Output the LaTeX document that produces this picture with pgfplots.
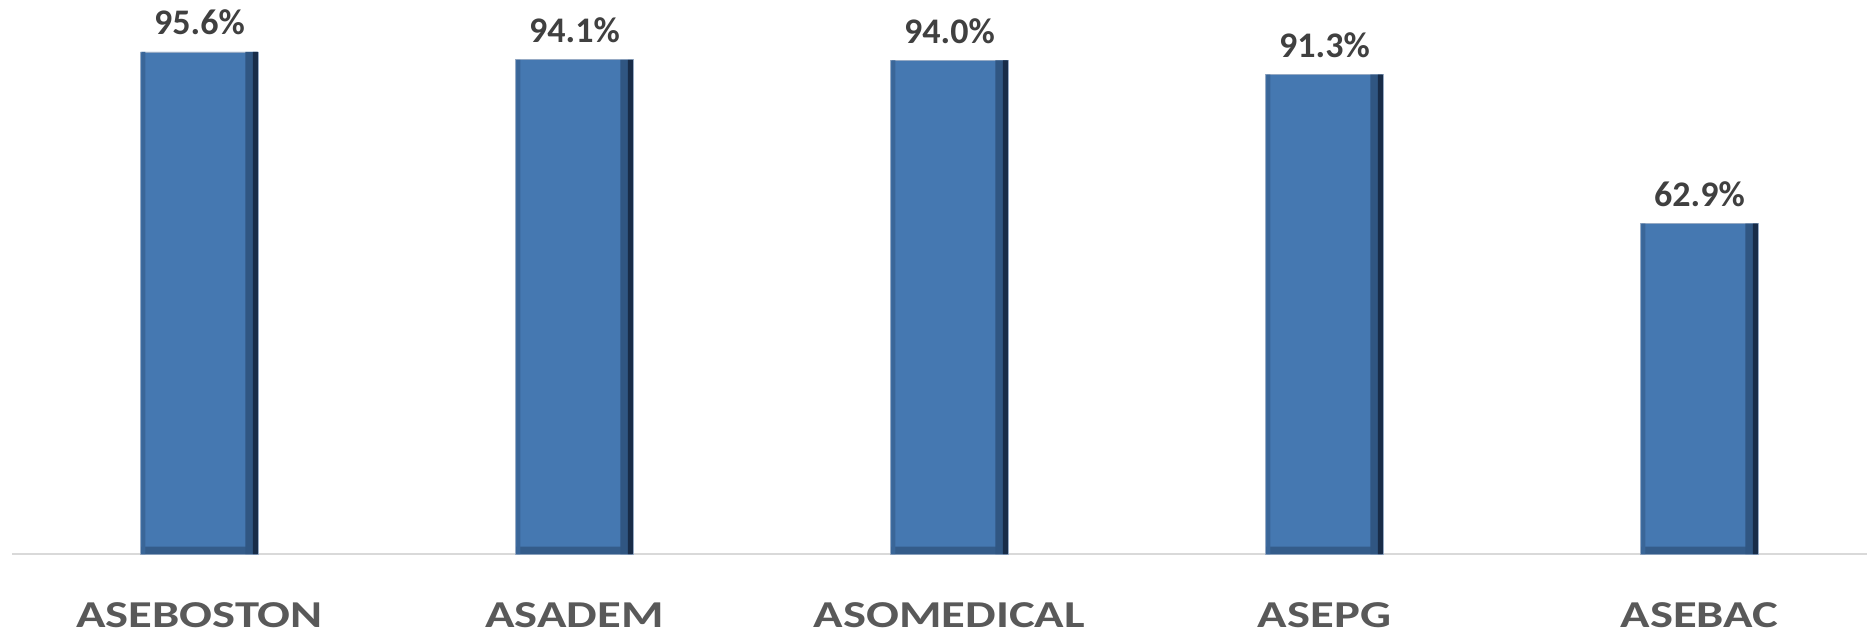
\documentclass[border=0pt]{standalone}
\usepackage{fontspec}
\setmainfont{Carlito}
\usepackage{graphicx}
\usepackage{pgfplots}
\pgfplotsset{compat=1.18}
\definecolor{bmain}{RGB}{69,120,177}
\definecolor{bleft}{RGB}{58,102,152}
\definecolor{bdarkA}{RGB}{48,86,130}
\definecolor{bdarkB}{RGB}{24,44,72}
\definecolor{bbottom}{RGB}{52,92,138}
\definecolor{valtext}{RGB}{64,64,64}
\definecolor{cattext}{RGB}{89,89,89}
\definecolor{axisgray}{RGB}{217,217,217}
\newcommand{\cat}[1]{\scalebox{1.28}[1]{#1}}
\begin{document}
\begin{tikzpicture}
\begin{axis}[
  at={(12bp,84bp)}, anchor=south west,
  scale only axis,
  width=1855bp, height=554bp,
  xmin=-0.5, xmax=4.447,
  ymin=0, ymax=105.5,
  axis x line=bottom,
  axis y line=none,
  x axis line style={-, draw=axisgray, line width=2bp},
  xtick=data,
  xticklabels={\cat{ASEBOSTON},\cat{ASADEM},\cat{ASOMEDICAL},\cat{ASEPG},\cat{ASEBAC}},
  major tick length=0pt,
  xticklabel style={anchor=base, yshift=-73bp, font=\fontsize{38bp}{42bp}\selectfont\bfseries, text=cattext, inner sep=0pt, text depth=0pt},
  ytick=\empty,
  clip=false,
  /pgf/number format/assume math mode=true,
]
\addplot[ybar, bar width=118bp, fill=bmain, draw={rgb,255:red,150;green,170;blue,196}, line width=0.8bp,
  nodes near coords={\pgfmathprintnumber[fixed,precision=1,fixed zerofill,assume math mode=true]{\pgfplotspointmeta}\%},
  every node near coord/.append style={anchor=base, yshift=17bp, inner sep=0pt, font=\fontsize{36bp}{40bp}\selectfont\bfseries, text=valtext}]
  coordinates {(0,95.6) (1,94.1) (2,94.0) (3,91.3) (4,62.9)};
\addplot[ybar, bar width=116bp, fill=bbottom, draw=none, forget plot]
  coordinates {(0,1.4) (1,1.4) (2,1.4) (3,1.4) (4,1.4)};
\addplot[ybar, bar width=12bp, bar shift=52bp, fill=bdarkA, draw=none, forget plot]
  coordinates {(0,95.6) (1,94.1) (2,94.0) (3,91.3) (4,62.9)};
\addplot[ybar, bar width=5bp, bar shift=56bp, fill=bdarkB, draw=none, forget plot]
  coordinates {(0,95.6) (1,94.1) (2,94.0) (3,91.3) (4,62.9)};
\addplot[ybar, bar width=4bp, bar shift=-56bp, fill=bleft, draw=none, forget plot]
  coordinates {(0,95.6) (1,94.1) (2,94.0) (3,91.3) (4,62.9)};
\end{axis}
\pgfresetboundingbox
\useasboundingbox (0,0) rectangle (1867bp,638bp);
\end{tikzpicture}
\end{document}
